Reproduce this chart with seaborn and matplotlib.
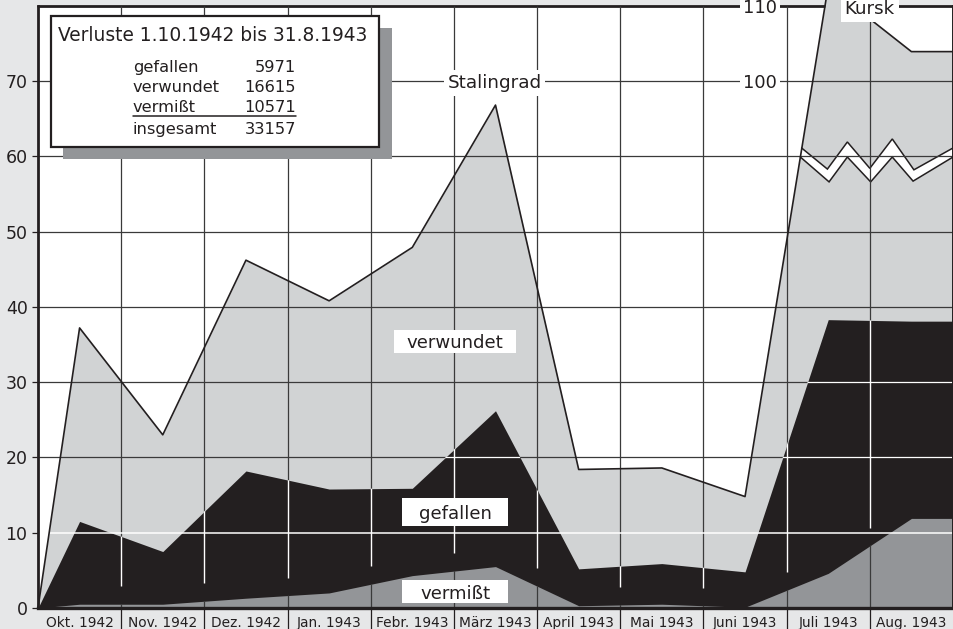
import numpy as np
import pandas as pd
import matplotlib
matplotlib.use("Agg")
import matplotlib.pyplot as plt
from matplotlib.patches import Rectangle, Polygon
from matplotlib.lines import Line2D
import seaborn as sns

# ---------------- data ----------------
months = ["Okt. 1942", "Nov. 1942", "Dez. 1942", "Jan. 1943", "Febr. 1943",
          "März 1943", "April 1943", "Mai 1943", "Juni 1943", "Juli 1943", "Aug. 1943"]
vermisst = [0.5, 0.5, 1.3, 2.0, 4.3, 5.5, 0.3, 0.5, 0.1, 4.6, 11.9]
gefallen = [11.0, 7.0, 16.9, 13.8, 11.6, 20.7, 4.9, 5.4, 4.7, 33.7, 26.2]
verwundet = [25.7, 15.5, 28.0, 25.0, 32.0, 40.6, 13.2, 12.7, 10.0, 74.3, 65.8]

yticks = [0, 10, 20, 30, 40, 50, 60, 70]
upper_scale_labels = ["100", "110"]   # broken upper scale
break_from = 90                       # values above this are shown shifted down
break_shift = 30

legend_title = "Verluste 1.10.1942 bis 31.8.1943"
legend_labels = ["gefallen", "verwundet", "vermißt", "insgesamt"]
legend_values = [5971, 16615, 10571, 33157]

# ---------------- styling ----------------
C_LIGHT = "#d1d3d4"
C_BLACK = "#231f20"
C_MID = "#939598"
C_BG = "#e6e7e8"
C_GRID = "#3a3a3a"

sns.set_theme(style="white")
plt.rcParams["font.family"] = ["DejaVu Sans"]
plt.rcParams["text.color"] = C_BLACK

W, H = 954, 629
fig = plt.figure(figsize=(W / 100, H / 100), dpi=100, facecolor=C_BG)
ax = fig.add_axes([38 / W, 21 / H, 915 / W, 602.3 / H])
ax.set_facecolor("white")
ax.set_xlim(0, 11)
ax.set_ylim(0, 80)

n = len(months)
mid = np.arange(n) + 0.5
xs = np.concatenate([[0], mid, [n]])


def pad(a):
    a = np.asarray(a, float)
    return np.concatenate([[0], a, [a[-1]]])


vm = pad(vermisst)
gt = vm + pad(gefallen)
tt = gt + pad(verwundet)
tt_disp = np.where(tt >= break_from, tt - break_shift, tt)

# top frame line (drawn under the areas so the peak can cover it)
ax.axhline(80, color=C_BLACK, lw=2, zorder=0.8, clip_on=False)

# verwundet (light) area up to total
ax.fill_between(xs, 0, tt_disp, color=C_LIGHT, lw=0, zorder=1, clip_on=False)

# scale break zig-zag band
zz_x_up = [9.18, 9.49, 9.73, 10.0, 10.27, 10.53, 11.0]
zz_y_up = [61.1, 58.3, 61.9, 58.4, 62.3, 58.2, 61.1]
zz_x_lo = [9.165, 9.51, 9.73, 10.01, 10.27, 10.52, 11.0]
zz_y_lo = [59.9, 56.6, 59.9, 56.6, 59.9, 56.7, 59.9]
band = Polygon(list(zip(zz_x_up, zz_y_up)) + list(zip(zz_x_lo, zz_y_lo))[::-1],
               closed=True, fc="white", ec="none", zorder=1.2)
ax.add_patch(band)
ax.plot(zz_x_up, zz_y_up, color=C_BLACK, lw=1.1, zorder=1.3, solid_joinstyle="miter")
ax.plot(zz_x_lo, zz_y_lo, color=C_BLACK, lw=1.1, zorder=1.3, solid_joinstyle="miter")

# dark grid
hgrid = [20, 30, 40, 50, 60, 70]
vgrid = np.arange(1, n)
ax.hlines(hgrid, 0, n, colors=C_GRID, lw=0.9, zorder=2)
ax.vlines(vgrid, 0, 80, colors=C_GRID, lw=0.9, zorder=2)

# gefallen (black) area
blk = ax.fill_between(xs, 0, gt, color=C_BLACK, lw=0, zorder=3)
blk_path = blk.get_paths()[0]
wh = ax.hlines(hgrid, 0, n, colors="white", lw=0.9, zorder=4)
wh.set_clip_path(blk_path, ax.transData)
vmin_w = np.interp(vgrid, xs, vm) + 2.4
wv = ax.vlines(vgrid, vmin_w, 80, colors="white", lw=1.0, zorder=4)
wv.set_clip_path(blk_path, ax.transData)

# vermisst (mid grey) area
mg = ax.fill_between(xs, 0, vm, color=C_MID, lw=0, zorder=5)
dv = ax.vlines(vgrid, 0, 80, colors=C_GRID, lw=0.9, zorder=6)
dv.set_clip_path(mg.get_paths()[0], ax.transData)

# white 10 line
ax.hlines([10], 0, n, colors="white", lw=1.1, zorder=7)

# total line
df = pd.DataFrame({"x": xs, "total": tt_disp})
sns.lineplot(data=df, x="x", y="total", ax=ax, color=C_BLACK, lw=1.2,
             estimator=None, sort=False, zorder=8)
for ln in ax.lines[-1:]:
    ln.set_clip_on(False)
ax.set_xlabel("")
ax.set_ylabel("")

# spines
ax.spines["top"].set_visible(False)
for s, lw in [("left", 2.0), ("bottom", 2.4), ("right", 1.4)]:
    ax.spines[s].set_visible(True)
    ax.spines[s].set_color(C_BLACK)
    ax.spines[s].set_linewidth(lw)
    ax.spines[s].set_zorder(11)

# ticks
ax.set_yticks(yticks)
ax.set_yticklabels([str(v) for v in yticks])
ax.tick_params(axis="y", which="major", direction="out", length=4.5, width=0.9,
               color=C_BLACK, labelsize=12.5, pad=3, labelcolor=C_BLACK, left=True)
ax.set_xticks(vgrid)
ax.set_xticklabels([""] * len(vgrid))
ax.tick_params(axis="x", which="major", direction="out", length=15.5, width=0.9,
               color=C_BLACK, bottom=True)
ax.set_xticks(mid, minor=True)
ax.set_xticklabels(months, minor=True)
ax.tick_params(axis="x", which="minor", length=0, labelsize=9.9, pad=5.6,
               labelcolor=C_BLACK, bottom=True)

# upper scale labels
for lab, yy in zip(upper_scale_labels, [70, 80]):
    ax.text(8.68, yy, lab, ha="center", va="center_baseline", fontsize=12.8,
            color=C_BLACK, zorder=9, clip_on=False,
            bbox=dict(boxstyle="square,pad=0.15", fc="white", ec="none"))

# event labels
ax.text(5.49, 70, "Stalingrad", ha="center", va="center_baseline", fontsize=13.2,
        zorder=9, bbox=dict(boxstyle="square,pad=0.2", fc="white", ec="none"))
ax.text(10.0, 79.8, "Kursk", ha="center", va="center_baseline", fontsize=13.2,
        zorder=9, clip_on=False,
        bbox=dict(boxstyle="square,pad=0.2", fc="white", ec="none"))

# series labels in boxes
for lab, (x0, x1, y0, y1) in zip(["verwundet", "gefallen", "vermißt"],
                                 [(4.28, 5.75, 33.9, 36.9),
                                  (4.38, 5.65, 10.9, 14.6),
                                  (4.38, 5.65, 0.66, 3.72)]):
    ax.add_patch(Rectangle((x0, y0), x1 - x0, y1 - y0, fc="white", ec="none", zorder=9))
    ax.text((x0 + x1) / 2, (y0 + y1) / 2, lab, ha="center", va="center_baseline",
            fontsize=13.1, zorder=10)


# legend box (figure pixel coordinates)
def fx(x):
    return x / W


def fy(y):
    return 1 - y / H


fig.add_artist(Rectangle((fx(63), fy(159)), (392 - 63) / W, (159 - 28) / H,
                         transform=fig.transFigure, fc=C_MID, ec="none", zorder=20))
fig.add_artist(Rectangle((fx(51), fy(147)), (379 - 51) / W, (147 - 16) / H,
                         transform=fig.transFigure, fc="white", ec=C_BLACK, lw=1.6,
                         zorder=21))
fig.text(fx(58), fy(40.7), legend_title, ha="left", va="baseline", fontsize=13.4,
         color=C_BLACK, zorder=22)
for lab, val, base in zip(legend_labels, legend_values, [71.7, 92.3, 112.3, 134.0]):
    fig.text(fx(133), fy(base), lab, ha="left", va="baseline", fontsize=11.7,
             color=C_BLACK, zorder=22)
    fig.text(fx(296), fy(base), str(val), ha="right", va="baseline", fontsize=11.7,
             color=C_BLACK, zorder=22)
fig.add_artist(Line2D([fx(133), fx(296)], [fy(116), fy(116)], transform=fig.transFigure,
                      color=C_BLACK, lw=1.1, zorder=22))

fig.savefig("out.png", dpi=100, facecolor=C_BG)
